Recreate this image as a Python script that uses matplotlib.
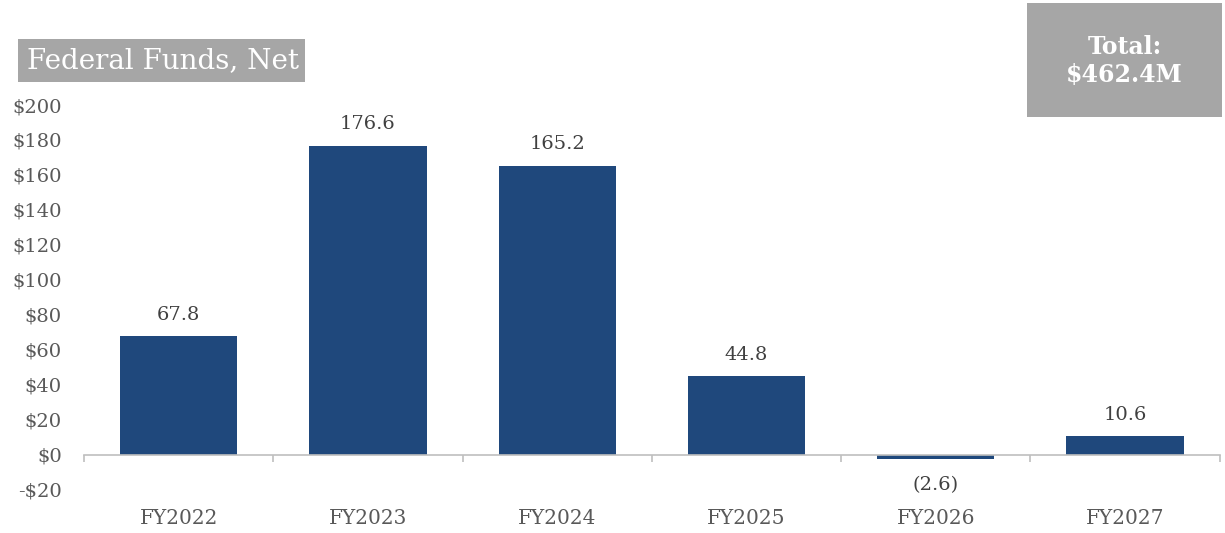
import matplotlib.pyplot as plt
from matplotlib.patches import Rectangle
import numpy as np

# Net federal funds by fiscal year ($M)
years = ['FY2022', 'FY2023', 'FY2024', 'FY2025', 'FY2026', 'FY2027']
net_funds = [67.8, 176.6, 165.2, 44.8, -2.6, 10.6]
total_label = 'Total:\n$462.4M'

plt.rcParams['font.family'] = ['DejaVu Serif']

fig = plt.figure(figsize=(12.25, 5.33), dpi=100)
ax = fig.add_axes([0.0686, 0.081, 0.927, 0.722])

x = np.arange(len(years))
bars = ax.bar(x, net_funds, width=0.62, color='#1f487c', zorder=2)

# value labels, negatives in parentheses below the bar
for xi, v in zip(x, net_funds):
    if v >= 0:
        ax.annotate(f'{v:.1f}', (xi, v), xytext=(0, 9), textcoords='offset points',
                    ha='center', va='bottom', fontsize=14, color='#404040')
    else:
        ax.annotate(f'({abs(v):.1f})', (xi, v), xytext=(0, -12), textcoords='offset points',
                    ha='center', va='top', fontsize=14, color='#404040')

ax.set_xlim(-0.5, len(years) - 0.5)
ax.set_ylim(-20, 200)
ax.set_yticks(np.arange(-20, 201, 20))
ax.set_yticklabels([f'-${-t}' if t < 0 else f'${t}' for t in np.arange(-20, 201, 20)])

# category axis sits on zero with small ticks between categories
for s in ['top', 'right', 'left']:
    ax.spines[s].set_visible(False)
ax.spines['bottom'].set_position(('data', 0))
ax.spines['bottom'].set_color('#bfbfbf')
ax.spines['bottom'].set_linewidth(1.2)
ax.set_xticks(x)
ax.set_xticklabels(years)
ax.set_xticks(np.arange(-0.5, len(years), 1), minor=True)
ax.tick_params(axis='x', which='major', length=0, pad=39, labelsize=14.5, labelcolor='#595959')
ax.tick_params(axis='x', which='minor', length=5, color='#bfbfbf', width=1.2, direction='out')
ax.tick_params(axis='y', length=0, pad=16, labelsize=14, labelcolor='#595959')

# grey header boxes
fig.patches.append(Rectangle((0.0147, 0.846), 0.2343, 0.081, transform=fig.transFigure,
                             fc='#a6a6a6', ec='none'))
fig.text(0.022, 0.886, 'Federal Funds, Net', fontsize=20, color='white', va='center', ha='left')

fig.patches.append(Rectangle((0.838, 0.780), 0.1595, 0.214, transform=fig.transFigure,
                             fc='#a6a6a6', ec='none'))
fig.text(0.918, 0.886, total_label, fontsize=17, fontweight='bold', color='white',
         ha='center', va='center', linespacing=1.2)

fig.savefig('out.png', dpi=100)
